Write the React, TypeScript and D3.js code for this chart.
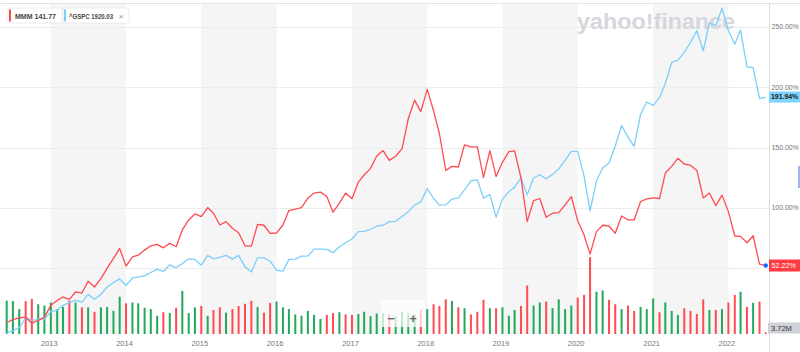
import React from "react";
import * as d3 from "d3";

// monthly points, Jun 2012 .. Jul 2022 (percent change)
const startMonth = new Date(2012, 5, 1);
const endMonth = new Date(2022, 6, 1);

const mmmPct = [
  5.0, 7.3, 8.9, 9.4, 4.4, 6.7, 9.4, 19.2, 23.3, 26.1,
  24.2, 30.3, 29.4, 39.2, 34.4, 41.4, 49.8, 58.1, 66.4, 51.7,
  59.4, 60.8, 65.0, 68.6, 69.8, 66.9, 70.6, 67.8, 81.7, 90.0,
  95.0, 92.8, 100.3, 95.6, 85.8, 88.6, 83.1, 79.4, 68.6, 68.3,
  86.4, 85.6, 78.9, 79.2, 85.8, 97.8, 98.9, 100.3, 108.1, 112.3,
  113.1, 109.4, 96.4, 103.9, 112.3, 107.5, 121.4, 127.3, 132.8, 143.1,
  147.5, 139.4, 142.8, 149.2, 173.9, 189.4, 179.8, 198.3, 180.3, 161.7,
  131.1, 134.4, 133.9, 152.3, 150.6, 150.6, 125.3, 147.5, 126.1, 137.8,
  146.7, 147.3, 124.8, 88.6, 106.1, 107.8, 92.3, 95.6, 96.1, 102.5,
  109.4, 89.4, 77.5, 61.7, 80.3, 85.6, 85.0, 78.9, 93.3, 90.0,
  90.0, 105.3, 107.5, 108.3, 107.8, 128.9, 134.4, 141.1, 136.4, 135.3,
  131.1, 108.3, 112.3, 101.9, 110.6, 96.9, 76.7, 76.4, 71.1, 76.9,
  53.3, 52.22,
];

const gspcPct = [
  -3.9, -1.7, 0.6, 8.9, 6.7, 7.5, 8.1, 13.9, 15.0, 19.2,
  21.4, 23.3, 21.9, 28.1, 24.2, 28.3, 34.4, 38.1, 41.1, 35.8,
  41.9, 42.8, 43.6, 46.4, 49.2, 47.3, 52.8, 50.3, 53.9, 57.8,
  57.3, 52.5, 60.6, 57.8, 58.9, 60.6, 57.5, 60.6, 51.1, 46.9,
  58.6, 58.6, 55.8, 48.3, 47.5, 57.3, 57.5, 60.0, 60.0, 65.8,
  65.8, 65.6, 62.8, 67.8, 71.1, 74.2, 80.3, 80.6, 82.3, 84.8,
  85.6, 88.6, 88.9, 92.8, 96.9, 102.5, 105.0, 116.1, 107.8, 102.3,
  102.5, 107.3, 108.3, 115.0, 122.5, 123.3, 108.1, 111.1, 92.3, 107.3,
  113.3, 117.3, 124.8, 110.8, 124.8, 127.5, 124.2, 127.8, 132.3, 139.4,
  146.9, 146.9, 126.1, 97.5, 122.5, 133.1, 137.3, 151.1, 168.3, 158.6,
  151.1, 177.5, 187.8, 185.0, 191.4, 203.1, 220.6, 222.5, 228.9, 237.3,
  246.9, 230.3, 253.3, 251.1, 265.6, 246.9, 235.8, 247.5, 216.9, 216.4,
  190.6, 191.94,
];

// MMM volume, millions
const volume = [
  75, 74, 56, 74, 79, 67, 64, 71, 56, 61,
  75, 71, 60, 60, 50, 60, 61, 52, 84, 69,
  71, 69, 59, 56, 41, 49, 47, 59, 97, 47,
  60, 63, 41, 54, 60, 48, 56, 63, 68, 75,
  61, 48, 70, 73, 60, 56, 44, 41, 52, 43,
  34, 43, 47, 49, 44, 43, 45, 50, 40, 46,
  47, 45, 40, 50, 47, 43, 54, 56, 67, 63,
  78, 74, 60, 58, 44, 50, 77, 58, 58, 60,
  41, 54, 63, 109, 64, 71, 73, 58, 78, 56,
  64, 82, 88, 173, 95, 98, 77, 67, 56, 64,
  52, 61, 56, 80, 49, 71, 52, 43, 58, 52,
  45, 78, 54, 54, 56, 71, 88, 95, 61, 70,
  73, 3.72,
];

// 1 = up month (green), 0 = down (red)
const volumeUp = [
  1, 1, 1, 0, 0, 1, 1, 1, 1, 1,
  0, 1, 0, 1, 0, 1, 1, 1, 1, 0,
  1, 1, 1, 1, 1, 0, 1, 0, 1, 1,
  1, 0, 1, 0, 0, 1, 0, 0, 0, 0,
  1, 0, 0, 1, 1, 1, 1, 1, 1, 1,
  1, 0, 0, 1, 0, 0, 1, 1, 1, 1,
  1, 0, 1, 1, 1, 1, 0, 1, 0, 0,
  0, 1, 0, 1, 0, 0, 0, 1, 0, 1,
  1, 1, 0, 0, 1, 1, 0, 1, 1, 1,
  1, 0, 0, 0, 1, 1, 0, 0, 1, 0,
  0, 1, 1, 1, 0, 1, 1, 1, 0, 0,
  0, 0, 1, 0, 1, 0, 0, 1, 0, 1,
  0, 0,
];

const gridTicks = [50, 100, 150, 200, 250];
const labelTicks = [100, 150, 200, 250]; // 50% sits under the MMM last-value tag
const shadedYears = [2013, 2015, 2017, 2019, 2021];

const RED = "#ff4b51";
const BLUE = "#7ccffa";
const GREEN = "#22a85b";
const FONT = "'Liberation Sans', Arial, Helvetica, sans-serif";

export default function App() {
  const width = 800;
  const height = 352;
  const plotRight = 769;
  const top = 3;
  const volBase = 334;

  const months = d3.timeMonth.range(startMonth, d3.timeMonth.offset(endMonth, 1));

  const x = d3.scaleTime().domain([startMonth, endMonth]).range([6.7, 765.7]);
  const y = d3.scaleLinear().domain([0, 250]).range([328.5, 27]);
  const yVol = d3.scaleLinear().domain([0, 180]).range([volBase, 254]);

  const line = d3
    .line<number>()
    .x((_, i) => x(months[i]))
    .y((d) => y(d));

  const years = x.ticks(d3.timeYear.every(1));
  const last = months[months.length - 1];

  return (
    <svg
      width={width}
      height={height}
      style={{ position: "fixed", left: 0, top: 0, background: "#fff" }}
      fontFamily={FONT}
    >
      {/* alternating year bands */}
      {shadedYears.map((yr) => (
        <rect
          key={yr}
          x={x(new Date(yr, 0, 1))}
          y={top}
          width={x(new Date(yr + 1, 0, 1)) - x(new Date(yr, 0, 1))}
          height={volBase - top}
          fill="#f5f5f5"
        />
      ))}
      <line x1={0} x2={width} y1={top + 0.5} y2={top + 0.5} stroke="#e3e3e3" />

      {/* gridlines */}
      {gridTicks.map((t) => (
        <line
          key={t}
          x1={0}
          x2={plotRight}
          y1={Math.round(y(t)) + 0.5}
          y2={Math.round(y(t)) + 0.5}
          stroke="#ececec"
        />
      ))}

      {/* watermark */}
      <text
        x={577}
        y={29}
        fontSize={22}
        fontWeight={800}
        fill="#d6d7dd"
        textLength={158}
        lengthAdjust="spacingAndGlyphs"
      >
        yahoo!finance
      </text>

      {/* volume */}
      {volume.map((v, i) => (
        <rect
          key={i}
          x={x(months[i]) - 1}
          y={yVol(v)}
          width={2}
          height={volBase - yVol(v)}
          fill={volumeUp[i] ? GREEN : RED}
        />
      ))}

      {/* lines */}
      <path d={line(gspcPct) || ""} fill="none" stroke={BLUE} strokeWidth={1.3} strokeLinejoin="round" />
      <path d={line(mmmPct) || ""} fill="none" stroke={RED} strokeWidth={1.3} strokeLinejoin="round" />

      {/* zoom control */}
      <rect x={381} y={300} width={44} height={27} fill="#fff" opacity={0.72} />
      <text x={391} y={323} fontSize={13} fontWeight={700} fill="#666" textAnchor="middle">
        −
      </text>
      <text x={413} y={323} fontSize={13} fontWeight={700} fill="#666" textAnchor="middle">
        +
      </text>

      {/* right axis */}
      <line x1={plotRight + 0.5} x2={plotRight + 0.5} y1={top} y2={height} stroke="#dcdcdc" />
      {labelTicks.map((t) => (
        <text key={t} x={771.5} y={y(t)} dy="0.35em" fontSize={6.9} fill="#777">
          {t.toFixed(2)}%
        </text>
      ))}

      {/* last value tags */}
      <rect x={769} y={y(191.94) - 5.5} width={31} height={11} fill="#7dd3fb" />
      <text x={771} y={y(191.94)} dy="0.35em" fontSize={6.9} fontWeight={700} fill="#1a1a1a">
        191.94%
      </text>
      <rect x={769} y={y(52.22) - 6} width={31} height={12} fill="#ff3b41" />
      <text x={771.5} y={y(52.22)} dy="0.35em" fontSize={7.2} fill="#fff">
        52.22%
      </text>
      <circle cx={x(last)} cy={y(52.22)} r={2.2} fill="#0f69ff" />
      <rect x={768} y={322.5} width={32} height={11} fill="#cfd2d8" />
      <text x={771} y={328} dy="0.35em" fontSize={7.5} fill="#333">
        3.72M
      </text>
      <rect x={798} y={166} width={2} height={22} fill="#9cb8ef" />

      {/* year axis */}
      {years.map((d) => (
        <text
          key={d.getFullYear()}
          x={x(d) - 1.5}
          y={345.5}
          fontSize={7.5}
          fill="#777"
          textAnchor="middle"
        >
          {d.getFullYear()}
        </text>
      ))}

      {/* legend */}
      <g>
        <rect x={8} y={8} width={54} height={15} rx={1.5} fill="#fff" stroke="#ececec" />
        <rect x={9} y={9.5} width={2} height={12} fill={RED} />
        <text x={15} y={18.5} fontSize={7} fontWeight={700} fill="#444" textLength={41} lengthAdjust="spacingAndGlyphs">
          MMM 141.77
        </text>
        <rect x={63} y={8} width={66} height={15} rx={1.5} fill="#fff" stroke="#ececec" />
        <rect x={64} y={9.5} width={2} height={12} fill={BLUE} />
        <text x={69} y={18.5} fontSize={7} fontWeight={700} fill="#444" textLength={44} lengthAdjust="spacingAndGlyphs">
          ^GSPC 1920.03
        </text>
        <text x={121} y={18.5} fontSize={8} fill="#888" textAnchor="middle">
          ×
        </text>
      </g>
    </svg>
  );
}
